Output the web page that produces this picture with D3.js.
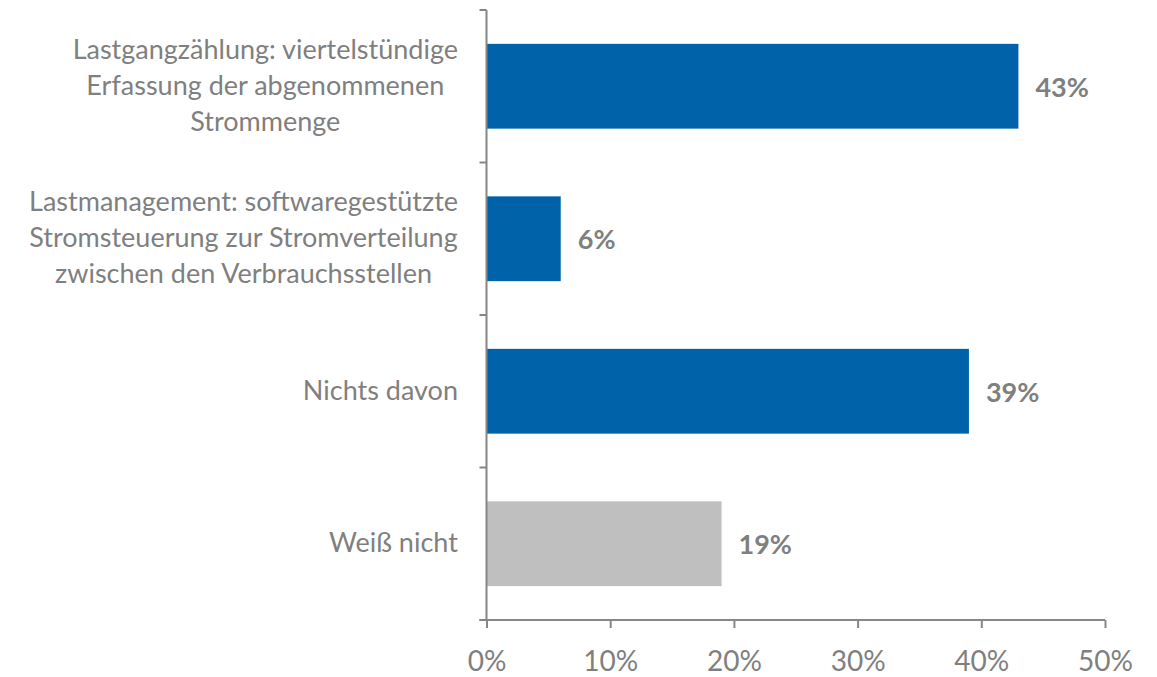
<!DOCTYPE html>
<html>
<head>
<meta charset="utf-8">
<script src="https://cdn.jsdelivr.net/npm/d3@7"></script>
<style>
  html, body { margin: 0; padding: 0; background: #fff; }
  svg { display: block; }
</style>
</head>
<body>
<svg id="chart" width="1157" height="677"></svg>
<script>
// Category labels (line breaks as shown), shares and bar colours
const categories = [
  ["Lastgangzählung: viertelstündige", "Erfassung der abgenommenen", "Strommenge"],
  ["Lastmanagement: softwaregestützte", "Stromsteuerung zur Stromverteilung", "zwischen den Verbrauchsstellen"],
  ["Nichts davon"],
  ["Weiß nicht"]
];
const values = [0.43, 0.06, 0.39, 0.19];
const barColors = ["#0063AA", "#0063AA", "#0063AA", "#BFBFBF"];
const xTicks = [0, 0.1, 0.2, 0.3, 0.4, 0.5];

const FONT = "Lato, 'Open Sans', sans-serif";
const TEXT = "#7F7F7F";
const AXIS = "#868686";

const svg = d3.select("#chart");
const plotLeft = 486.5, plotRight = 1105, plotTop = 10, plotBottom = 620;

const x = d3.scaleLinear().domain([0, 0.5]).range([plotLeft, plotRight]);
const y = d3.scaleBand().domain(d3.range(categories.length))
  .range([plotTop, plotBottom]).paddingInner(0.444).paddingOuter(0.222);

// Bars
svg.append("g").selectAll("rect").data(values).join("rect")
  .attr("x", x(0))
  .attr("y", (d, i) => y(i))
  .attr("width", d => x(d) - x(0))
  .attr("height", y.bandwidth())
  .attr("fill", (d, i) => barColors[i]);

// Value labels
svg.append("g").selectAll("text").data(values).join("text")
  .attr("x", d => x(d) + 17)
  .attr("y", (d, i) => y(i) + y.bandwidth() / 2 + 10.5)
  .attr("font-family", FONT)
  .attr("font-weight", "bold")
  .attr("font-size", 27)
  .attr("fill", TEXT)
  .text(d => d3.format(".0%")(d));

// Category axis: line and boundary ticks
const step = (plotBottom - plotTop) / categories.length;
const yAxis = svg.append("g");
yAxis.append("line")
  .attr("x1", plotLeft).attr("x2", plotLeft).attr("y1", plotTop).attr("y2", plotBottom)
  .attr("stroke", AXIS).attr("stroke-width", 2);
yAxis.selectAll("line.tick").data(d3.range(categories.length + 1)).join("line")
  .attr("class", "tick")
  .attr("x1", plotLeft - 7).attr("x2", plotLeft)
  .attr("y1", i => plotTop + i * step).attr("y2", i => plotTop + i * step)
  .attr("stroke", AXIS).attr("stroke-width", 2);

// Category labels: each block centred on its own lines, right edge near the axis
const lineH = 36;
const labelRight = 458;
categories.forEach((lines, i) => {
  const t = svg.append("text")
    .attr("font-family", FONT)
    .attr("font-size", 27)
    .attr("fill", TEXT)
    .attr("text-anchor", "middle");
  const cy = y(i) + y.bandwidth() / 2;
  const y0 = cy - (lines.length - 1) * lineH / 2 + 8.5;
  lines.forEach((ln, k) => {
    t.append("tspan").attr("x", 0).attr("y", y0 + k * lineH).text(ln);
  });
  const w = t.node().getBBox().width;
  t.selectAll("tspan").attr("x", labelRight - w / 2);
});

// Value axis
const xAxis = d3.axisBottom(x).tickValues(xTicks).tickFormat(d3.format(".0%"))
  .tickSize(8).tickPadding(0);
const gx = svg.append("g").attr("transform", `translate(0,${plotBottom})`).call(xAxis);
gx.select(".domain").attr("stroke", AXIS).attr("stroke-width", 2)
  .attr("d", `M${plotLeft - 7},0H${plotRight}`);
gx.selectAll(".tick line").attr("stroke", AXIS).attr("stroke-width", 2);
gx.selectAll(".tick text")
  .attr("y", 50.5).attr("dy", null)
  .attr("font-family", FONT).attr("font-size", 28).attr("fill", TEXT);
</script>
</body>
</html>
